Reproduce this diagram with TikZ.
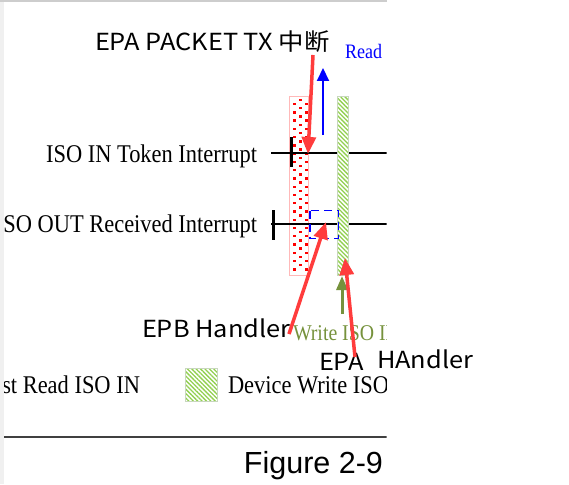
\documentclass[tikz,border=0pt]{standalone}
\usepackage{fontspec}
\setmainfont{Liberation Serif}
\newfontfamily\serifn[FakeStretch=0.88]{Liberation Serif}
\newfontfamily\cjk[FakeStretch=1.08]{Noto Sans CJK SC}
\newfontfamily\arial{Liberation Sans}
\usetikzlibrary{patterns.meta,arrows.meta}
\definecolor{redann}{RGB}{255,60,60}
\definecolor{dotred}{RGB}{255,0,0}
\definecolor{pinkborder}{RGB}{255,185,185}
\definecolor{hatchgreen}{RGB}{146,208,80}
\definecolor{greenborder}{RGB}{200,215,190}
\definecolor{olive}{RGB}{118,146,60}
\definecolor{stripgray}{RGB}{240,240,240}
\definecolor{topgray}{RGB}{205,205,205}
\definecolor{linegray}{RGB}{64,64,64}
\definecolor{pureblue}{RGB}{0,0,255}
\tikzset{
  lbl/.style={inner sep=0pt, outer sep=0pt},
  seriflbl/.style={lbl, font=\serifn\fontsize{25.5}{28}\selectfont},
  annlbl/.style={lbl, font=\cjk\fontsize{23.5}{27}\selectfont},
  annarrow/.style={redann, line width=3.5pt, -{Triangle[length=17pt,width=14pt]}},
  hatch/.style={pattern={Lines[angle=-45,distance=3.1pt,line width=1.3pt]}, pattern color=hatchgreen},
  tickmark/.style={line width=3pt},
  timeline/.style={line width=1.5pt}
}
\begin{document}
\begin{tikzpicture}[x=1pt,y=-1pt]
\path[use as bounding box] (0,0) rectangle (569,484);
\fill[white] (0,0) rectangle (569,484);
\fill[stripgray] (0,0) rectangle (4,484);
\fill[topgray] (0,0) rectangle (387,2.5);

\begin{scope}
\clip (4,0) rectangle (386.5,484);
% red dotted bar
\draw[pinkborder, line width=1.2pt, fill=white] (289.5,96.5) rectangle (308.5,275.5);
\foreach \k in {0,...,41}{
  \pgfmathsetmacro\yy{100+4.13*\k}
  \ifodd\k
    \foreach \xx in {294.3,306.3}{\fill[dotred] (\xx-1.2,\yy-1.2) rectangle (\xx+1.2,\yy+1.2);}
  \else
    \foreach \xx in {300.3}{\fill[dotred] (\xx-1.2,\yy-1.2) rectangle (\xx+1.2,\yy+1.2);}
  \fi
}
% time lines
\coordinate (inL) at (271,153);
\coordinate (inR) at (400,153);
\coordinate (outL) at (271,224);
\coordinate (outR) at (400,224);
\draw[timeline] (inL) -- (inR);
\draw[timeline] (outL) -- (outR);
\coordinate (tA1) at (291,137); \coordinate (tA2) at (291,167);
\coordinate (tB1) at (273,210); \coordinate (tB2) at (273,240);
\draw[tickmark] (tA1) -- (tA2);
\draw[tickmark] (tB1) -- (tB2);
% green hatched bar
\fill[white] (337.5,96.5) rectangle (348,275.5);
\path[hatch] (337.5,96.5) rectangle (348,275.5);
\draw[greenborder, line width=1pt] (337.5,96.5) rectangle (348,275.5);
% blue dashed box
\draw[pureblue, line width=1.8pt, dash pattern=on 8pt off 5pt] (310,210.5) rectangle (338.5,238.5);
% blue arrow and Read
\coordinate (bT) at (323,135); \coordinate (bH) at (323,68);
\draw[pureblue, line width=2pt, -{Triangle[length=13pt,width=12pt]}] (bT) -- (bH);
\node[lbl, anchor=base west, text=pureblue, font=\serifn\fontsize{20.5}{24}\selectfont] (read) at (345,59) {Read};
% labels
\node[seriflbl, anchor=base east] (isoin) at (257,162) {ISO IN Token Interrupt};
\node[seriflbl, anchor=base east] (isoout) at (257,232) {SO OUT Received Interrupt};
\node[lbl, anchor=base west, text=olive, font=\serifn\fontsize{22.5}{26}\selectfont] (wiso) at (293,340) {Write ISO IN};
% green arrow
\coordinate (gT) at (342,314); \coordinate (gH) at (342,276);
\draw[olive, line width=3pt, -{Triangle[length=14pt,width=11pt]}] (gT) -- (gH);
% legend
\node[seriflbl, anchor=base east] (leg1) at (140,393) {st Read ISO IN};
\fill[white] (185.5,368) rectangle (217.5,401.5);
\path[hatch] (185.5,368) rectangle (217.5,401.5);
\draw[greenborder, line width=1pt] (185.5,368) rectangle (217.5,401.5);
\node[seriflbl, anchor=base west] (leg2) at (228,393) {Device Write ISO IN};
% bottom rule
\coordinate (rL) at (4,436.5); \coordinate (rR) at (387,436.5);
\draw[linegray, line width=2pt] (rL) -- (rR);
\end{scope}
\node[lbl, anchor=base east, font=\arial\fontsize{30.5}{34}\selectfont] (fig) at (383,473) {Figure 2-9};

% annotations
\node[annlbl, anchor=base west] (epatx) at (95,51) {EPA PACKET TX 中断};
\node[annlbl, anchor=base west] (epb) at (142,337) {EPB Handler};
\node[annlbl, anchor=base west] (epa) at (319,370) {EPA};
\node[annlbl, anchor=base west] (hand) at (377,368) {HAndler};
\coordinate (a1t) at (313,55); \coordinate (a1h) at (308,154);
\coordinate (a2t) at (289,334); \coordinate (a2h) at (326,222);
\coordinate (a3t) at (355,357); \coordinate (a3h) at (345,258);
\draw[annarrow] (a1t) -- (a1h);
\draw[annarrow] (a2t) -- (a2h);
\draw[annarrow] (a3t) -- (a3h);
\end{tikzpicture}
\end{document}
